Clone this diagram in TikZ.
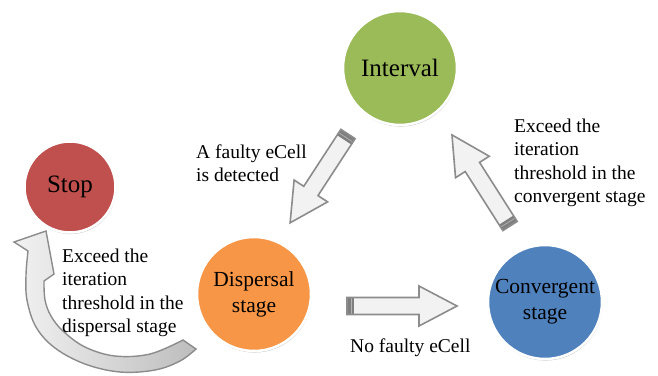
\documentclass[tikz,border=0pt]{standalone}
\usepackage{fontspec}
\setmainfont{Liberation Serif}
\newfontfamily\tnr{Liberation Serif}
\usetikzlibrary{shadows}
\definecolor{cgreen}{HTML}{9BBB59}
\definecolor{cred}{HTML}{C0504D}
\definecolor{corange}{HTML}{F79646}
\definecolor{cblue}{HTML}{4F81BD}
\definecolor{afill}{HTML}{F2F2F2}
\definecolor{aline}{HTML}{8C8C8C}
\definecolor{aband}{HTML}{7F7F7F}
\definecolor{adark}{HTML}{BDBDBD}
\tikzset{
  stagecircle/.style={circle, draw=white, line width=2.5pt, inner sep=0pt,
    align=center, text=black,
    drop shadow={shadow xshift=0.6pt, shadow yshift=-1.6pt, opacity=0.35, fill=black!60}},
  bigtxt/.style={font=\tnr\fontsize{25}{30}\selectfont},
  midtxt/.style={font=\tnr\fontsize{21.5}{26}\selectfont},
  lbl/.style={font=\tnr\fontsize{19.5}{23.5}\selectfont, align=left, inner sep=0pt, text=black},
  arrowbody/.style={fill=afill},
  arrowedge/.style={draw=aline, line width=1.6pt, line join=miter},
  tailband/.style={fill=aband},
  curvedarrow/.style={draw=aline, line width=1.4pt, left color=afill, right color=adark},
}
\newcommand{\blockarr}[3]{%
  \begin{scope}[shift={(#1)}, rotate=#2]
    \path[arrowbody] (0,-8.5) -- ({#3-38},-8.5) -- ({#3-38},-20) -- (#3,0) -- ({#3-38},20) -- ({#3-38},8.5) -- (0,8.5) -- cycle;
    \fill[tailband] (0,-8.5) rectangle (7,8.5);
    \draw[black!30, line width=0.7pt] (4,-8.5) -- (4,8.5);
    \path[arrowedge] (0,-8.5) -- ({#3-38},-8.5) -- ({#3-38},-20) -- (#3,0) -- ({#3-38},20) -- ({#3-38},8.5) -- (0,8.5) -- cycle;
  \end{scope}}
\begin{document}
\begin{tikzpicture}[x=1pt, y=-1pt]
\useasboundingbox[fill=white] (0,0) rectangle (658,375);

% stages
\node[stagecircle, fill=cgreen, minimum size=114pt, bigtxt] (interval) at (400,68) {Interval};
\node[stagecircle, fill=cred, minimum size=91pt, bigtxt] (stop) at (70,187) {Stop};
\node[stagecircle, fill=corange, minimum size=114pt, midtxt] (dispersal) at (254,294) {Dispersal\\stage};
\node[stagecircle, fill=cblue, minimum size=114pt, midtxt] (convergent) at (545,302) {Convergent\\stage};

% block arrows (tail coordinates)
\coordinate (t1) at (348,134);
\coordinate (t2) at (347,306);
\coordinate (t3) at (510,226);
\blockarr{t1}{236.9}{106}
\blockarr{t2}{0}{110}
\blockarr{t3}{122.5}{108}

% curved arrow from dispersal stage to stop
\path[curvedarrow] plot[smooth, tension=0.6] coordinates {(196,349) (180,361) (155,370) (120,372) (85,364) (55,348) (36,327) (27,300) (26,275) (28,251)}
  -- (14,242) -- (46,231) -- (54,274) --
  plot[smooth, tension=0.6] coordinates {(44,281) (45,300) (51,316) (63,331) (85,347) (115,356) (150,354) (183,340)} -- cycle;

% labels
\node[lbl, anchor=west] (l1) at (196,163) {A faulty eCell\\is detected};
\node[lbl, anchor=west] (l2) at (514,163) {Exceed the\\iteration\\threshold in the\\convergent stage};
\node[lbl, anchor=west] (l3) at (62,293) {Exceed the\\iteration\\threshold in the\\dispersal stage};
\node[lbl, anchor=west] (l4) at (350,348) {No faulty eCell};
\end{tikzpicture}
\end{document}
